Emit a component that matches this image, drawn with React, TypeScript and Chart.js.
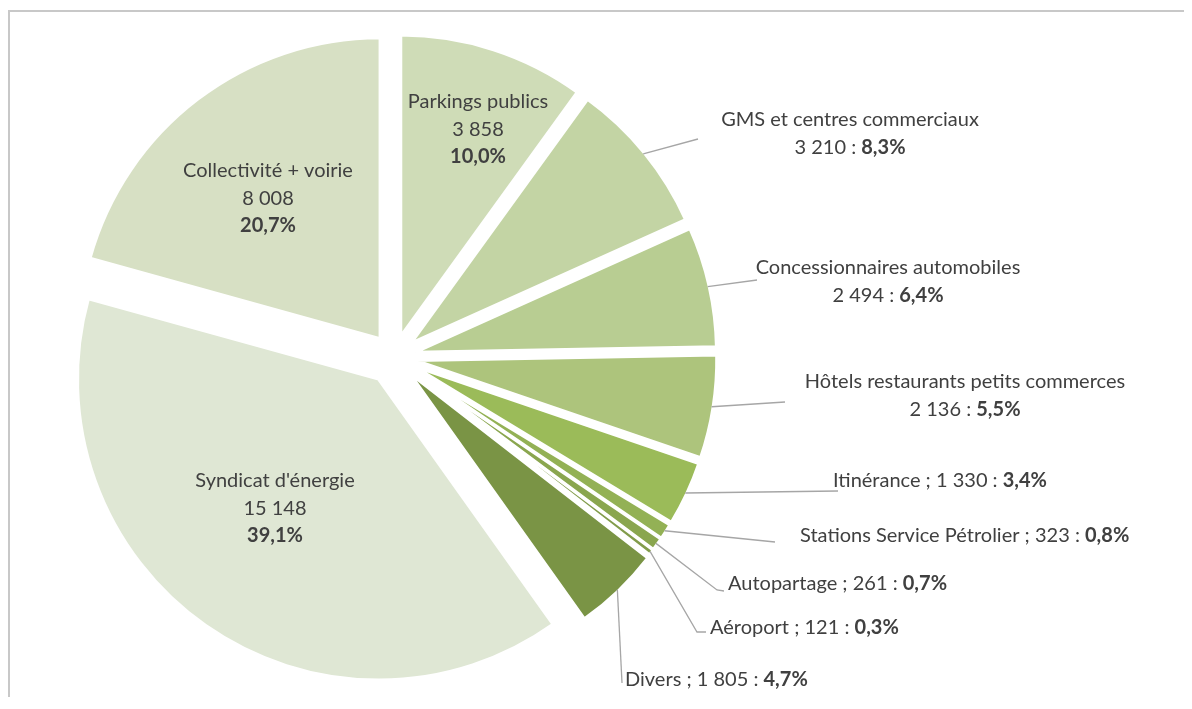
import React, { useEffect, useRef } from 'react';
import { Chart, registerables } from 'chart.js';

Chart.register(...registerables);

// ---- data ----
const categories = [
  'Parkings publics',
  'GMS et centres commerciaux',
  'Concessionnaires automobiles',
  'Hôtels restaurants petits commerces',
  'Itinérance',
  'Stations Service Pétrolier',
  'Autopartage',
  'Aéroport',
  'Divers',
  "Syndicat d'énergie",
  'Collectivité + voirie',
];
const values = [3858, 3210, 2494, 2136, 1330, 323, 261, 121, 1805, 15148, 8008];

// ---- styles ----
const colors = [
  '#cfdcb7', '#c3d4a4', '#b8cd92', '#adc47c', '#9bbb59',
  '#93b155', '#8aa64f', '#829c4b', '#7a9445', '#dfe7d4', '#d7e0c4',
];
const explodePx = [22, 22, 22, 22, 22, 22, 22, 22, 23, 27, 23];
const labelKind = ['inside', 'two', 'two', 'two', 'one', 'one', 'one', 'one', 'one', 'inside', 'inside'];
const labelAnchor: [number, number][] = [
  [468, 90], [840, 108], [878, 256], [955, 370], [823, 469],
  [790, 524], [718, 572], [700, 616], [615, 668], [265, 469], [258, 159],
];
const leaderPoints: ([number, number][] | null)[] = [
  null,
  [[688, 127]],
  [[747, 268]],
  [[775, 390]],
  [[828, 479]],
  [[765, 530]],
  [[707, 578], [714, 579]],
  [[687, 620], [696, 620]],
  [[612, 671]],
  null,
  null,
];

const TEXT = '#404040';
const FONT = 'Lato, "Open Sans", sans-serif';
const FS = 20;
const LH = 27.5;
const BW = 3;

const total = values.reduce((a, b) => a + b, 0);
const fmt = (n: number) => String(n).replace(/\B(?=(\d{3})+(?!\d))/g, ' ');
const pct = (n: number) => ((n / total) * 100).toFixed(1).replace('.', ',') + '%';

function drawRich(ctx: CanvasRenderingContext2D, segs: [string, boolean][], x: number, y: number, align: 'center' | 'left') {
  const widths = segs.map(([t, b]) => {
    ctx.font = `${b ? 'bold ' : ''}${FS}px ${FONT}`;
    return ctx.measureText(t).width;
  });
  const w = widths.reduce((a, b) => a + b, 0);
  let cx = align === 'center' ? x - w / 2 : x;
  ctx.textAlign = 'left';
  ctx.textBaseline = 'middle';
  ctx.fillStyle = TEXT;
  segs.forEach(([t, b], i) => {
    ctx.font = `${b ? 'bold ' : ''}${FS}px ${FONT}`;
    ctx.fillText(t, cx, y);
    cx += widths[i];
  });
}

const explodePlugin = {
  id: 'explodeSlices',
  beforeDatasetDraw(chart: any, args: any) {
    args.meta.data.forEach((arc: any, i: number) => {
      const e = explodePx[i] || 0;
      const mid = (arc.startAngle + arc.endAngle) / 2;
      arc.$ox = arc.x;
      arc.$oy = arc.y;
      arc.x = arc.x + Math.cos(mid) * e;
      arc.y = arc.y + Math.sin(mid) * e;
    });
  },
  afterDatasetDraw(chart: any, args: any) {
    args.meta.data.forEach((arc: any) => {
      arc.x = arc.$ox;
      arc.y = arc.$oy;
    });
  },
};

const labelPlugin = {
  id: 'sliceLabels',
  afterDatasetsDraw(chart: any) {
    const ctx: CanvasRenderingContext2D = chart.ctx;
    const meta = chart.getDatasetMeta(0);
    ctx.save();
    meta.data.forEach((arc: any, i: number) => {
      const mid = (arc.startAngle + arc.endAngle) / 2;
      const e = explodePx[i] || 0;
      const r = arc.outerRadius - BW / 2;
      const sx = arc.x + Math.cos(mid) * (e + r);
      const sy = arc.y + Math.sin(mid) * (e + r);
      const pts = leaderPoints[i];
      if (pts) {
        ctx.beginPath();
        ctx.strokeStyle = '#a6a6a6';
        ctx.lineWidth = 1.3;
        ctx.moveTo(sx, sy);
        pts.forEach(([px, py]) => ctx.lineTo(px, py));
        ctx.stroke();
      }
      const [ax, ay] = labelAnchor[i];
      const kind = labelKind[i];
      if (kind === 'inside') {
        drawRich(ctx, [[categories[i], false]], ax, ay, 'center');
        drawRich(ctx, [[fmt(values[i]), false]], ax, ay + LH, 'center');
        drawRich(ctx, [[pct(values[i]), true]], ax, ay + 2 * LH, 'center');
      } else if (kind === 'two') {
        drawRich(ctx, [[categories[i], false]], ax, ay, 'center');
        drawRich(ctx, [[fmt(values[i]) + ' : ', false], [pct(values[i]), true]], ax, ay + LH, 'center');
      } else {
        drawRich(ctx, [[categories[i] + ' ; ' + fmt(values[i]) + ' : ', false], [pct(values[i]), true]], ax, ay, 'left');
      }
    });
    ctx.restore();
  },
};

export default function App() {
  const ref = useRef<HTMLCanvasElement>(null);
  useEffect(() => {
    const chart = new Chart(ref.current as HTMLCanvasElement, {
      type: 'pie',
      data: {
        labels: categories,
        datasets: [
          {
            data: values,
            backgroundColor: colors,
            borderColor: '#ffffff',
            borderWidth: BW,
            radius: 301,
          } as any,
        ],
      },
      options: {
        responsive: false,
        animation: false,
        events: [],
        layout: { padding: { left: 0, right: 406, top: 5, bottom: 0 } },
        plugins: {
          legend: { display: false },
          tooltip: { enabled: false },
        },
      },
      plugins: [explodePlugin, labelPlugin],
    });
    return () => chart.destroy();
  }, []);
  return (
    <div style={{ paddingTop: 2 }}>
      <div
        style={{
          borderTop: '2px solid #c8c8c8',
          borderLeft: '2px solid #c8c8c8',
          width: 1182,
          height: 685,
        }}
      >
        <canvas ref={ref} width={1174} height={685} style={{ display: 'block' }} />
      </div>
    </div>
  );
}
